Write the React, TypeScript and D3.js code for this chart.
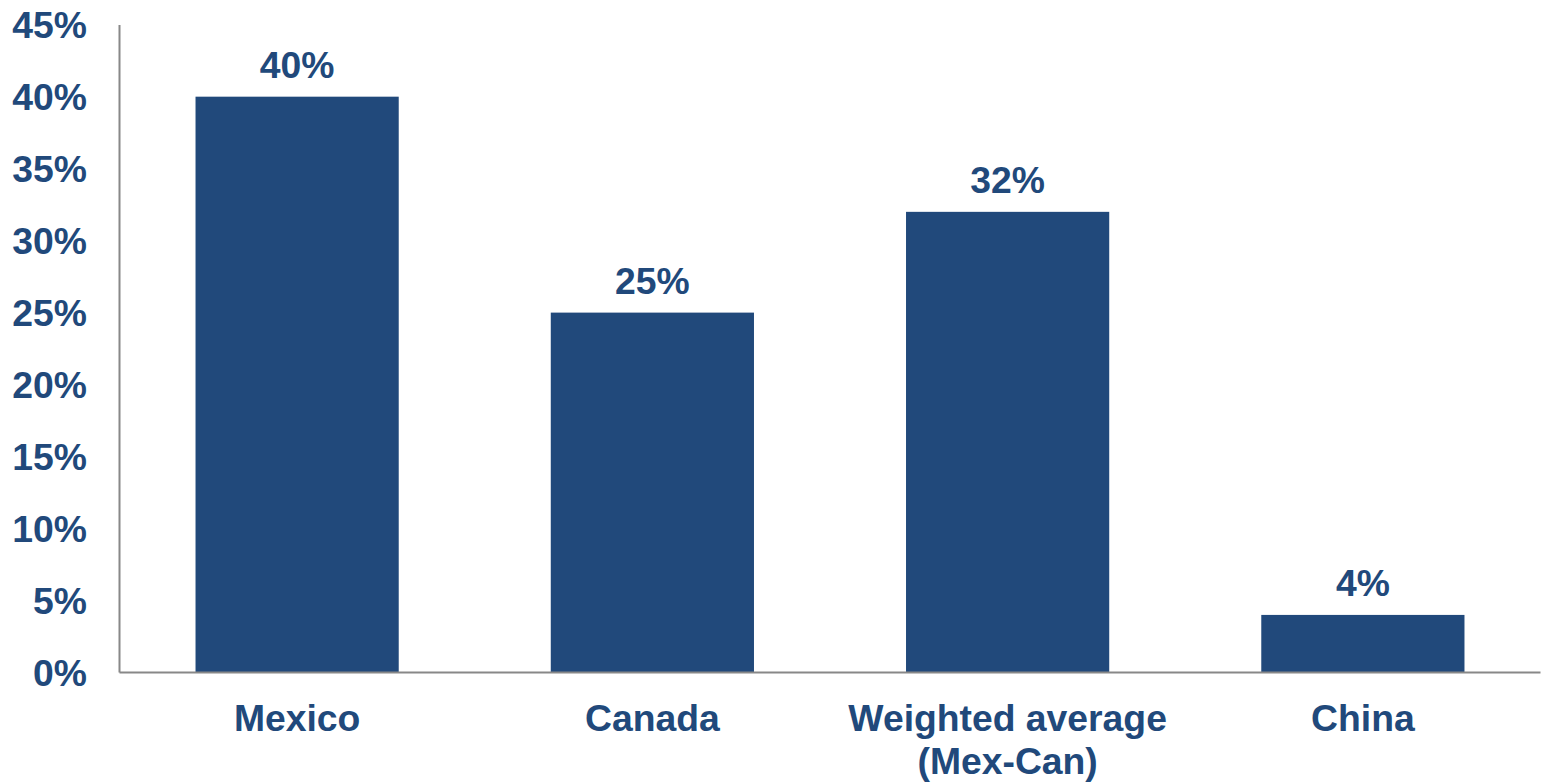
import React from "react";
import * as d3 from "d3";

const categories: string[][] = [["Mexico"], ["Canada"], ["Weighted average", "(Mex-Can)"], ["China"]];
const values: number[] = [0.4, 0.25, 0.32, 0.04];
const valueLabels: string[] = ["40%", "25%", "32%", "4%"];
const yTicks: number[] = [0, 0.05, 0.1, 0.15, 0.2, 0.25, 0.3, 0.35, 0.4, 0.45];

const W = 1547;
const H = 782;
const left = 119.5;
const right = 1540.5;
const top = 24.7;
const bottom = 672.5;
const color = "#21497B";
const font = "'Liberation Sans', Arial, sans-serif";
const fs = 37.3;

export default function App() {
  const keys = categories.map((c) => c.join(" "));
  const x = d3.scaleBand<string>().domain(keys).range([left, right]).paddingInner(0.428).paddingOuter(0.214);
  const y = d3.scaleLinear().domain([0, 0.45]).range([bottom, top]);
  const fmt = d3.format(".0%");
  return (
    <svg width={W} height={H} style={{ position: "absolute", left: 0, top: 0, background: "#fff" }}>
      {values.map((v, i) => (
        <rect key={i} x={x(keys[i])!} width={x.bandwidth()} y={y(v)} height={y(0) - y(v)} fill={color} />
      ))}
      {values.map((v, i) => (
        <text key={"v" + i} x={x(keys[i])! + x.bandwidth() / 2} y={y(v) - 19} textAnchor="middle"
          fontFamily={font} fontWeight="bold" fontSize={fs} fill={color}>{valueLabels[i]}</text>
      ))}
      <line x1={left} x2={left} y1={25} y2={bottom} stroke="#888" strokeWidth={2} />
      <line x1={left} x2={right} y1={bottom} y2={bottom} stroke="#888" strokeWidth={2} />
      {yTicks.map((t, i) => (
        <text key={"t" + i} x={87} y={y(t)} dy="0.36em" textAnchor="end" fontFamily={font}
          fontWeight="bold" fontSize={fs} fill={color}>{fmt(t)}</text>
      ))}
      {categories.map((lines, i) => (
        <text key={"c" + i} textAnchor="middle" fontFamily={font} fontWeight="bold" fontSize={fs} fill={color}>
          {lines.map((l, j) => (
            <tspan key={j} x={x(keys[i])! + x.bandwidth() / 2} y={731 + j * 43}>{l}</tspan>
          ))}
        </text>
      ))}
    </svg>
  );
}
